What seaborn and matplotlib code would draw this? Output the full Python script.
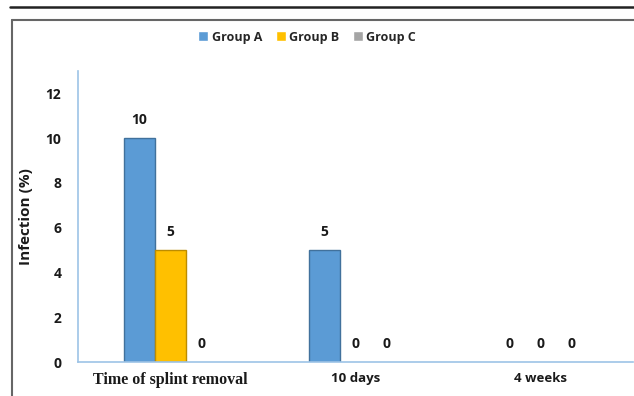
import matplotlib
matplotlib.use("Agg")
import matplotlib.pyplot as plt
from matplotlib.lines import Line2D
import seaborn as sns
import pandas as pd

# Infection rates (%) per follow-up time and group
categories = ["Time of splint removal", "10 days", "4 weeks"]
groups = ["Group A", "Group B", "Group C"]
group_a = [10, 5, 0]
group_b = [5, 0, 0]
group_c = [0, 0, 0]
y_ticks = [0, 2, 4, 6, 8, 10, 12]

colors = {"Group A": "#5B9BD5", "Group B": "#FFC000", "Group C": "#A5A5A5"}
edges = {"Group A": "#41719C", "Group B": "#BC8C00", "Group C": "#7F7F7F"}

rows = []
for g, vals in zip(groups, [group_a, group_b, group_c]):
    for c, v in zip(categories, vals):
        rows.append({"time": c, "group": g, "infection": v})
df = pd.DataFrame(rows)

sns.set_style("white")
SANS = ["Open Sans", "DejaVu Sans"]
plt.rcParams["font.family"] = SANS
TXT = "#1a1a1a"

fig = plt.figure(figsize=(6.34, 3.96), dpi=100)
ax = fig.add_axes([78 / 634, 1 - 362 / 396, (633 - 78) / 634, (362 - 71) / 396])

sns.barplot(data=df, x="time", y="infection", hue="group", order=categories,
            hue_order=groups, palette=colors, saturation=1, width=0.505, gap=0,
            ax=ax, legend=True)

for cont, g in zip(ax.containers, groups):
    for patch in cont:
        if patch.get_height() > 0:
            patch.set_edgecolor(edges[g])
            patch.set_linewidth(1.0)
        else:
            patch.set_linewidth(0)
    ax.bar_label(cont, labels=[f"{int(v)}" for v in df[df.group == g].infection],
                 padding=8, fontsize=10, fontweight="bold", color=TXT)

ax.set_ylim(0, 13)
ax.set_xlim(-0.5, 2.5)
ax.set_yticks(y_ticks)
ax.set_yticklabels([str(t) for t in y_ticks], fontsize=10, fontweight="bold", color=TXT)
ax.tick_params(axis="y", length=0, pad=12)
ax.tick_params(axis="x", length=0, pad=7)

ax.set_xticks(range(len(categories)))
ax.set_xticklabels(categories)
for i, lbl in enumerate(ax.get_xticklabels()):
    lbl.set_fontweight("bold")
    lbl.set_color(TXT)
    if i == 0:
        lbl.set_family(["Liberation Serif", "DejaVu Serif"])
        lbl.set_fontsize(11.5)
    else:
        lbl.set_fontsize(9.5)

ax.set_xlabel("")
ax.set_ylabel("Infection (%)", fontsize=11, fontweight="bold", color=TXT, labelpad=9)

for side in ["top", "right"]:
    ax.spines[side].set_visible(False)
for side in ["left", "bottom"]:
    ax.spines[side].set_color("#9DC3E6")
    ax.spines[side].set_linewidth(1.2)

handles, labels = ax.get_legend_handles_labels()
ax.legend(handles, labels, loc="center", bbox_to_anchor=(307 / 634, 1 - 37 / 396),
          bbox_transform=fig.transFigure, ncol=3, frameon=False,
          handlelength=0.8, handleheight=0.8, handletextpad=0.25, columnspacing=1.1,
          prop={"family": SANS, "weight": "bold", "size": 9})

# page rule and panel frame
fig.add_artist(Line2D([10 / 634, 1], [1 - 7 / 396] * 2, color="#222222", lw=1.8,
                      transform=fig.transFigure))
fig.add_artist(Line2D([11.5 / 634, 1], [1 - 20 / 396] * 2, color="#666666", lw=1.5,
                      transform=fig.transFigure))
fig.add_artist(Line2D([11.5 / 634] * 2, [0, 1 - 20 / 396], color="#666666", lw=1.5,
                      transform=fig.transFigure))

fig.savefig("out.png", dpi=100)
